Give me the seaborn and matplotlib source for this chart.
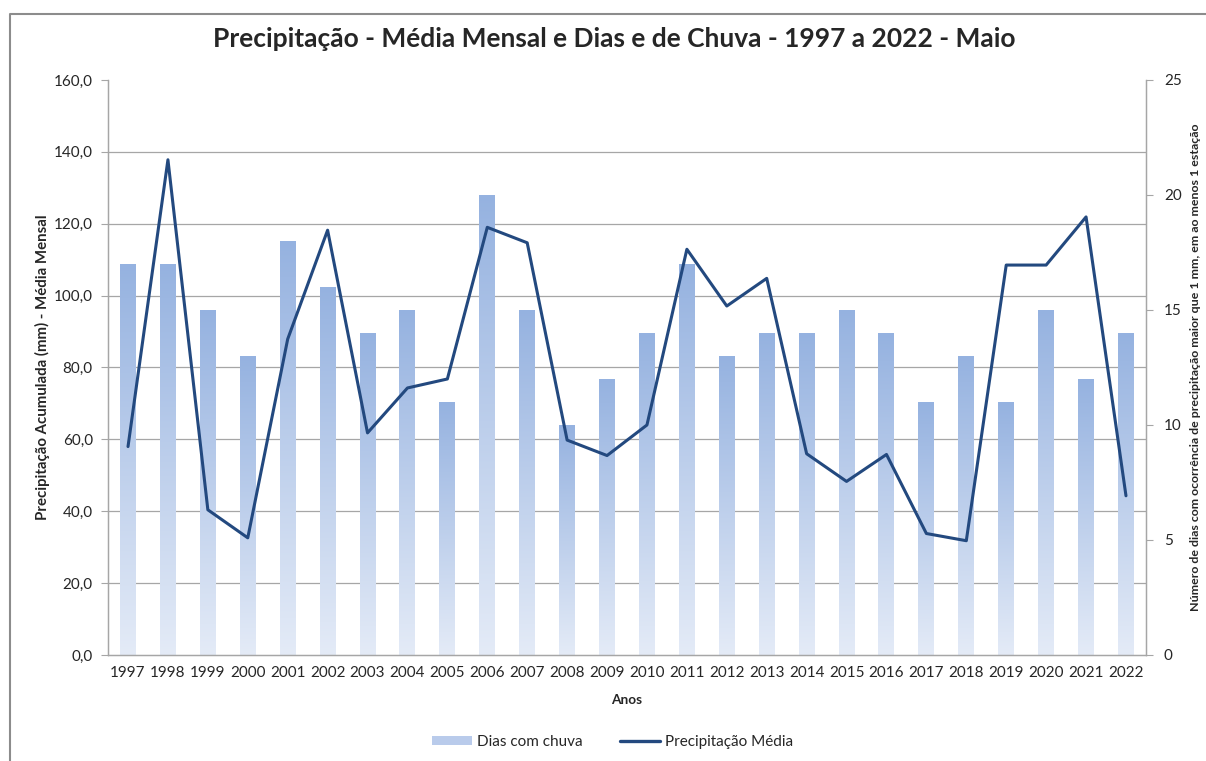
import numpy as np
import pandas as pd
import seaborn as sns
import matplotlib.pyplot as plt
from matplotlib.patches import Patch
from matplotlib.lines import Line2D
from matplotlib.colors import LinearSegmentedColormap

years = [str(y) for y in range(1997, 2023)]
dias_chuva = [17, 17, 15, 13, 18, 16, 14, 15, 11, 20, 15, 10, 12,
              14, 17, 13, 14, 14, 15, 14, 11, 13, 11, 15, 12, 14]
precip_media = [58.0, 137.8, 40.4, 32.6, 87.9, 118.2, 61.8, 74.3, 76.8, 119.0,
                114.7, 59.8, 55.5, 64.0, 112.9, 97.1, 104.8, 56.0, 48.3, 55.8,
                33.8, 31.8, 108.5, 108.5, 121.9, 44.3]

df = pd.DataFrame({"ano": years, "dias": dias_chuva, "precip": precip_media})

sns.set_style("white")
plt.rcParams['font.family'] = ['Lato', 'DejaVu Sans']

fig = plt.figure(figsize=(12.06, 7.61), dpi=100)
ax = fig.add_axes([0.0896, 0.1393, 0.8606, 0.7556])   # precipitation (left)
ax2 = ax.twinx()                                       # days (right)
ax.set_zorder(ax2.get_zorder() + 1)
ax.patch.set_visible(False)

# bars with vertical gradient
sns.barplot(data=df, x="ano", y="dias", ax=ax2, width=0.4, color="#9BB5E2",
            saturation=1, edgecolor="none")
cmap = LinearSegmentedColormap.from_list("grad", ["#E4EBF7", "#95B2E0"])
grad = np.linspace(0, 1, 256).reshape(-1, 1)
for p in ax2.patches:
    x0, y0 = p.get_x(), p.get_y()
    w, h = p.get_width(), p.get_height()
    im = ax2.imshow(grad, cmap=cmap, origin="lower", aspect="auto",
                    extent=[x0, x0 + w, y0, y0 + h], zorder=2)
    im.set_clip_path(p)
    p.set_facecolor("none")

ax2.set_ylim(0, 25)
ax2.set_xlim(-0.5, len(years) - 0.5)
ax2.set_yticks(np.arange(0, 26, 5))
ax2.set_yticks(np.arange(0, 24, 3.125), minor=True)
ax2.grid(which="minor", axis="y", color="#A6A6A6", lw=0.9)
ax2.set_axisbelow(True)
ax2.tick_params(axis="y", which="minor", length=0)
ax2.tick_params(axis="y", which="major", length=5, color="#A6A6A6",
                labelsize=11, labelcolor="#262626", pad=8)
ax2.set_ylabel("Número de dias com ocorrência de precipitação maior que 1 mm, em ao menos 1 estação",
               fontsize=8.9, fontweight="bold", labelpad=6)

# precipitation line
x = np.arange(len(years))
sns.lineplot(x=x, y=df["precip"], ax=ax, color="#23497F", lw=2.2)
ax.set_ylim(0, 160)
ax.set_xlim(-0.5, len(years) - 0.5)
ax.set_yticks(np.arange(0, 161, 20))
ax.set_yticklabels([f"{v:.1f}".replace(".", ",") for v in np.arange(0, 161, 20)])
ax.tick_params(axis="y", length=5, color="#A6A6A6", labelsize=11,
               labelcolor="#262626", pad=6)
ax.set_ylabel("Precipitação Acumulada (mm) - Média Mensal", fontsize=10.8,
              fontweight="bold", labelpad=3)
ax.set_xticks(x)
ax.set_xticklabels(years)
ax.set_xticks(np.arange(-0.5, len(years), 1), minor=True)
ax.tick_params(axis="x", which="major", length=0, labelsize=11,
               labelcolor="#262626", pad=8)
ax.tick_params(axis="x", which="minor", length=5, color="#A6A6A6")
ax.set_xlabel("Anos", fontsize=9.8, fontweight="bold", labelpad=10)
ax2.set_xlabel("")

for a in (ax, ax2):
    a.spines["top"].set_visible(False)
    for s in ("left", "right", "bottom"):
        a.spines[s].set_color("#A6A6A6")
        a.spines[s].set_linewidth(0.9)

fig.suptitle("Precipitação - Média Mensal e Dias e de Chuva - 1997 a 2022 - Maio",
             fontsize=19, fontweight="bold", y=0.965, x=0.509)

handles = [Patch(facecolor="#B9CBEB", edgecolor="none"),
           Line2D([0], [0], color="#23497F", lw=2.4)]
fig.legend(handles, ["Dias com chuva", "Precipitação Média"], loc="center",
           bbox_to_anchor=(0.508, 0.025), ncol=2, frameon=False, fontsize=11,
           handlelength=2.6, handleheight=0.6, columnspacing=2.5, handletextpad=0.3)

# chart-area border (cropped screenshot: only top and left edges visible)
fig.add_artist(Line2D([0.0083, 0.0083, 1.0], [0.0, 0.9816, 0.9816],
                      transform=fig.transFigure, color="#8C8C8C", lw=1.5))

fig.savefig("out.png", dpi=100)
